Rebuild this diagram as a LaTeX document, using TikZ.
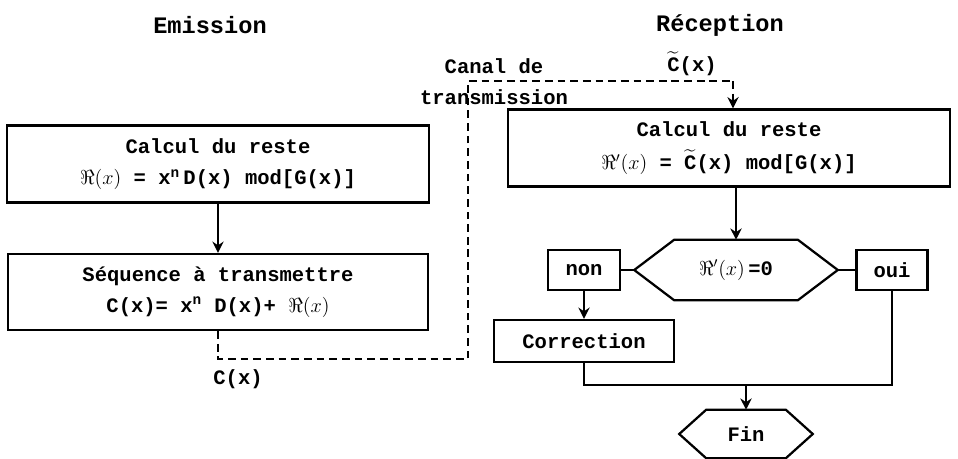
\documentclass[tikz,border=0pt]{standalone}
\usepackage[no-math]{fontspec}
\usepackage{amsmath}
\usepackage{amssymb}
\setmainfont{Liberation Mono}
\usetikzlibrary{positioning, arrows.meta, calc}

% one pixel of the layout grid
\newdimen\pxu \pxu=0.025cm

\begin{document}
\begin{tikzpicture}[
    x=0.025cm, y=-0.025cm,
    every node/.style={font=\fontsize{14.6}{20}\selectfont\bfseries},
    box/.style={rectangle, draw=black, line width=1.6pt, align=center},
    titre/.style={font=\fontsize{16.8}{20}\selectfont\bfseries},
    arr/.style={-{Stealth[length=8pt, width=8pt]}, line width=1.6pt},
    wire/.style={line width=1.6pt, line join=miter},
    canal/.style={line width=1.6pt, dash pattern=on 5.5pt off 3.5pt}
]
\useasboundingbox (0,0) rectangle (958,459);

% Titles
\node[titre] (emis) at (210,25) {Emission};
\node[titre] (recep) at (720,25) {Réception};

% === Emission ===
\node[box, minimum width=422\pxu, minimum height=77\pxu] (reste1) at (218,164)
    {Calcul du reste\\[2pt] $\Re(x)$ = x\textsuperscript{n}\,D(x) mod[G(x)]};
\node[box, minimum width=420\pxu, minimum height=76\pxu] (seq) at (218,292)
    {Séquence à transmettre\\[2pt] C(x)= x\textsuperscript{n} D(x)+ $\Re(x)$};
\draw[arr] (reste1.south) -- (seq.north);

% === Canal ===
\coordinate (k1) at (468,359);
\coordinate (k2) at (733,81);
\node[align=center] (canal) at (494,82) {Canal de\\[2pt]transmission};
\node (ctilde) at (692,64) {$\widetilde{\mbox{C}}$(x)};
\node (cx) at (238,379) {C(x)};

% === Reception ===
\node[box, minimum width=442\pxu, minimum height=77\pxu] (reste2) at (729,148)
    {Calcul du reste\\[4pt] $\Re'(x)$ = $\widetilde{\mbox{C}}$(x) mod[G(x)]};
\draw[canal] (seq.south) |- (k1) -- (k1 |- k2) -- (k2);
\draw[canal, -{Stealth[length=8pt, width=8pt]}] (k2) -- (k2 |- reste2.north);

% test R'(x)=0
\node[minimum width=203\pxu, minimum height=60\pxu] (dec) at (736,270) {$\Re'(x)\,$=0};
\draw[wire] (dec.west) -- ([xshift=40\pxu]dec.north west) -- ([xshift=-40\pxu]dec.north east)
    -- (dec.east) -- ([xshift=-40\pxu]dec.south east) -- ([xshift=40\pxu]dec.south west) -- cycle;
\node[box, minimum width=72\pxu, minimum height=40\pxu] (non) at (584,270) {non};
\node[box, minimum width=71\pxu, minimum height=40\pxu] (oui) at (892,270) {oui};
\node[box, minimum width=180\pxu, minimum height=42\pxu] (corr) at (584,341) {Correction};

% end
\node[minimum width=133\pxu, minimum height=48\pxu] (fin) at (746,434) {Fin};
\draw[wire] (fin.west) -- ([xshift=27\pxu]fin.north west) -- ([xshift=-27\pxu]fin.north east)
    -- (fin.east) -- ([xshift=-27\pxu]fin.south east) -- ([xshift=27\pxu]fin.south west) -- cycle;
\coordinate (join) at (746,385);

\draw[arr] (reste2.south -| dec.north) -- (dec.north);
\draw[wire] (dec.west) -- (non.east);
\draw[wire] (dec.east) -- (oui.west);
\draw[arr] (non.south) -- (corr.north);
\draw[wire] (corr.south) |- (join) -| (oui.south);
\draw[arr] (join) -- (fin.north);

\end{tikzpicture}
\end{document}
